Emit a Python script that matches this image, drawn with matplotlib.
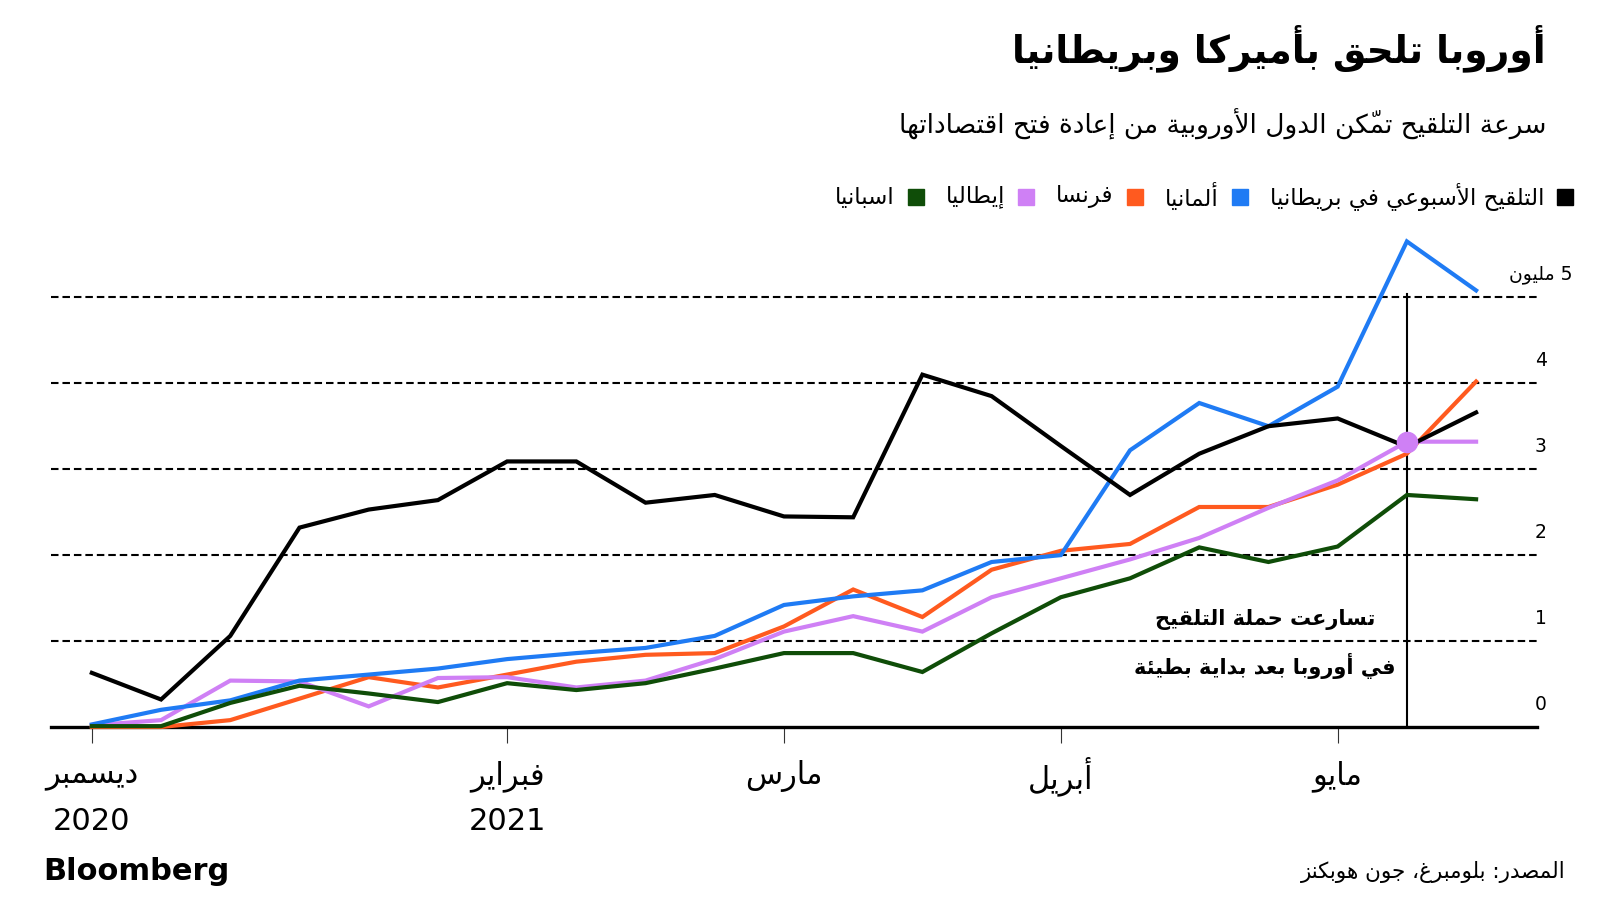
import matplotlib
matplotlib.use("Agg")
import matplotlib.pyplot as plt
from matplotlib.transforms import offset_copy

plt.rcParams['font.family'] = ['DejaVu Sans']

# ---- data: weekly vaccine doses, millions ----
weeks = list(range(21))
uk = [0.63, 0.32, 1.06, 2.32, 2.53, 2.64, 3.09, 3.09, 2.61, 2.70, 2.45,
      2.44, 4.10, 3.85, 3.27, 2.70, 3.18, 3.50, 3.59, 3.26, 3.66]
germany = [0.03, 0.20, 0.31, 0.54, 0.61, 0.68, 0.79, 0.86, 0.92, 1.06, 1.42,
           1.52, 1.59, 1.92, 2.00, 3.22, 3.77, 3.50, 3.96, 5.65, 5.08]
france = [0.0, 0.0, 0.08, 0.33, 0.58, 0.46, 0.61, 0.76, 0.84, 0.86, 1.17,
          1.60, 1.28, 1.83, 2.05, 2.13, 2.56, 2.56, 2.82, 3.18, 4.02]
italy = [0.02, 0.08, 0.54, 0.53, 0.24, 0.57, 0.58, 0.46, 0.54, 0.79, 1.11,
         1.29, 1.11, 1.51, 1.73, 1.95, 2.20, 2.55, 2.87, 3.32, 3.32]
spain = [0.01, 0.01, 0.28, 0.48, 0.39, 0.29, 0.51, 0.43, 0.51, 0.68, 0.86,
         0.86, 0.64, 1.09, 1.51, 1.73, 2.09, 1.92, 2.10, 2.70, 2.65]

names = ["التلقيح الأسبوعي في بريطانيا", "ألمانيا", "فرنسا", "إيطاليا", "اسبانيا"]
colors = ["#000000", "#1f7bf4", "#ff5a1f", "#cf80f5", "#0f4d08"]

month_ticks = [0, 6, 10, 14, 18]
month_labels = ["ديسمبر", "فبراير", "مارس", "أبريل", "مايو"]
year_labels = ["2020", "2021", "", "", ""]
y_ticks = [0, 1, 2, 3, 4, 5]
y_labels = ["0", "1", "2", "3", "4", "5 مليون"]
highlight_week = 19

title = "أوروبا تلحق بأميركا وبريطانيا"
subtitle = "سرعة التلقيح تمكّن الدول الأوروبية من إعادة فتح اقتصاداتها"
note = ["تسارعت حملة التلقيح", "في أوروبا بعد بداية بطيئة"]
source = "المصدر: بلومبرغ، جون هوبكنز"


# ---- tiny arabic shaper (matplotlib has no text shaping) ----
LETTERS = "ءآأؤإئابةتثجحخدذرزسشصضطظعغفقكلمنهوىي"
RIGHT_ONLY = "آأؤإادذرزوىة"
FORMS = {}
code = 0xFE80
for ch in LETTERS:
    n = 1 if ch == "ء" else (2 if ch in RIGHT_ONLY else 4)
    FORMS[ch] = [chr(code + i) for i in range(n)]
    code += n
LAM_ALEF = {"آ": 0xFEF5, "أ": 0xFEF7, "إ": 0xFEF9, "ا": 0xFEFB}


def is_mark(ch):
    return 0x064B <= ord(ch) <= 0x065F or ch == "\u0670"


def joins_next(b):
    return b in FORMS and len(FORMS[b]) == 4


def joins_prev(b):
    return (b in FORMS and len(FORMS[b]) > 1) or b.startswith("LA")


def ar(text):
    tokens = []
    i = 0
    while i < len(text):
        ch = text[i]
        if is_mark(ch) and tokens:
            tokens[-1][1] += ch
        elif ch == "ل" and i + 1 < len(text) and text[i + 1] in LAM_ALEF:
            tokens.append(["LA" + text[i + 1], ""])
            i += 1
        else:
            tokens.append([ch, ""])
        i += 1
    glyphs = []
    for k, (b, marks) in enumerate(tokens):
        prev = k > 0 and joins_next(tokens[k - 1][0]) and joins_prev(b)
        nxt = k < len(tokens) - 1 and joins_next(b) and joins_prev(tokens[k + 1][0])
        if b.startswith("LA"):
            g = chr(LAM_ALEF[b[2]] + (1 if prev else 0))
        elif b in FORMS:
            f = FORMS[b]
            idx = 3 if (prev and nxt) else 1 if prev else 2 if nxt else 0
            g = f[min(idx, len(f) - 1)] if not (idx == 2 and len(f) < 4) else f[0]
        else:
            g = b
        glyphs.append((g + marks, b.isascii() and b.isalnum()))
    # visual order: reverse, keeping ltr runs (digits) in order
    runs = []
    for g, ltr in glyphs:
        if runs and runs[-1][0] == ltr:
            runs[-1][1].append(g)
        else:
            runs.append([ltr, [g]])
    out = ""
    for ltr, gs in reversed(runs):
        out += "".join(gs if ltr else reversed(gs))
    return out


# ---- figure ----
W, H = 1600, 900
fig = plt.figure(figsize=(16, 9), dpi=100)
fig.patch.set_facecolor("white")


def fx(x):
    return x / W


def fy(y):
    return 1 - y / H


ax = fig.add_axes([fx(51), fy(727), 1486 / W, 497 / H])
ax.set_xlim(-0.59, 20.88)
ax.set_ylim(0, 5.783)

for v in y_ticks[1:]:
    ax.axhline(v, color="black", lw=1.5, ls=(0, (3.6, 1.9)), zorder=1)

ax.plot([highlight_week, highlight_week], [0, y_ticks[-1] + 0.04],
        color="black", lw=1.5, zorder=1.5)

series = [uk, germany, france, italy, spain]
order = [2, 3, 1, 4, 0]
for i in order:
    ax.plot(weeks, series[i], color=colors[i], lw=3, zorder=3 + order.index(i) * 0.1,
            clip_on=False, solid_joinstyle="miter")

ax.plot([highlight_week], [italy[highlight_week]], "o", color=colors[3],
        ms=14.5, zorder=5, clip_on=False)

for s in ["top", "right", "left"]:
    ax.spines[s].set_visible(False)
ax.spines["bottom"].set_linewidth(2.4)
ax.spines["bottom"].set_zorder(2.5)
ax.set_yticks([])
ax.set_xticks(month_ticks)
ax.set_xticklabels([ar(m) for m in month_labels], fontsize=22, va="center")
ax.tick_params(axis="x", length=11.5, width=0.8, color="#333333", pad=24)

ytr = offset_copy(ax.get_yaxis_transform(), fig=fig, y=23, units="dots")
for v, lab in zip(y_ticks, y_labels):
    ax.text((1541 - 51) / 1486, v, ar(lab), transform=ytr, ha="center",
            va="center", fontsize=13.5)

xtr = offset_copy(ax.get_xaxis_transform(), fig=fig, y=-94, units="dots")
for t, yl in zip(month_ticks, year_labels):
    if yl:
        ax.text(t, 0, yl, transform=xtr, ha="center", va="center", fontsize=22)

# annotation
fig.text(fx(1265), fy(619), ar(note[0]), ha="center", va="center",
         fontsize=15, fontweight="bold")
fig.text(fx(1265), fy(666), ar(note[1]), ha="center", va="center",
         fontsize=15, fontweight="bold")

# titles
fig.text(fx(1546), fy(48), ar(title), ha="right", va="center",
         fontsize=27, fontweight="bold")
fig.text(fx(1546), fy(124), ar(subtitle), ha="right", va="center", fontsize=19)

# legend, laid out right to left
renderer = fig.canvas.get_renderer()
cursor = 1573
for name, c in zip(names, colors):
    fig.patches.append(plt.Rectangle((fx(cursor - 16), fy(205)), 16 / W, 16 / H,
                                     transform=fig.transFigure, color=c))
    t = fig.text(fx(cursor - 29), fy(197), ar(name), ha="right", va="center",
                 fontsize=16.5)
    w = t.get_window_extent(renderer).width
    cursor = cursor - 29 - w - 22

# footer
fig.text(fx(43), fy(872), "Bloomberg", ha="left", va="center",
         fontsize=22, fontweight="bold")
fig.text(fx(1566), fy(872), ar(source), ha="right", va="center", fontsize=15.5)

fig.savefig("out.png", dpi=100)
